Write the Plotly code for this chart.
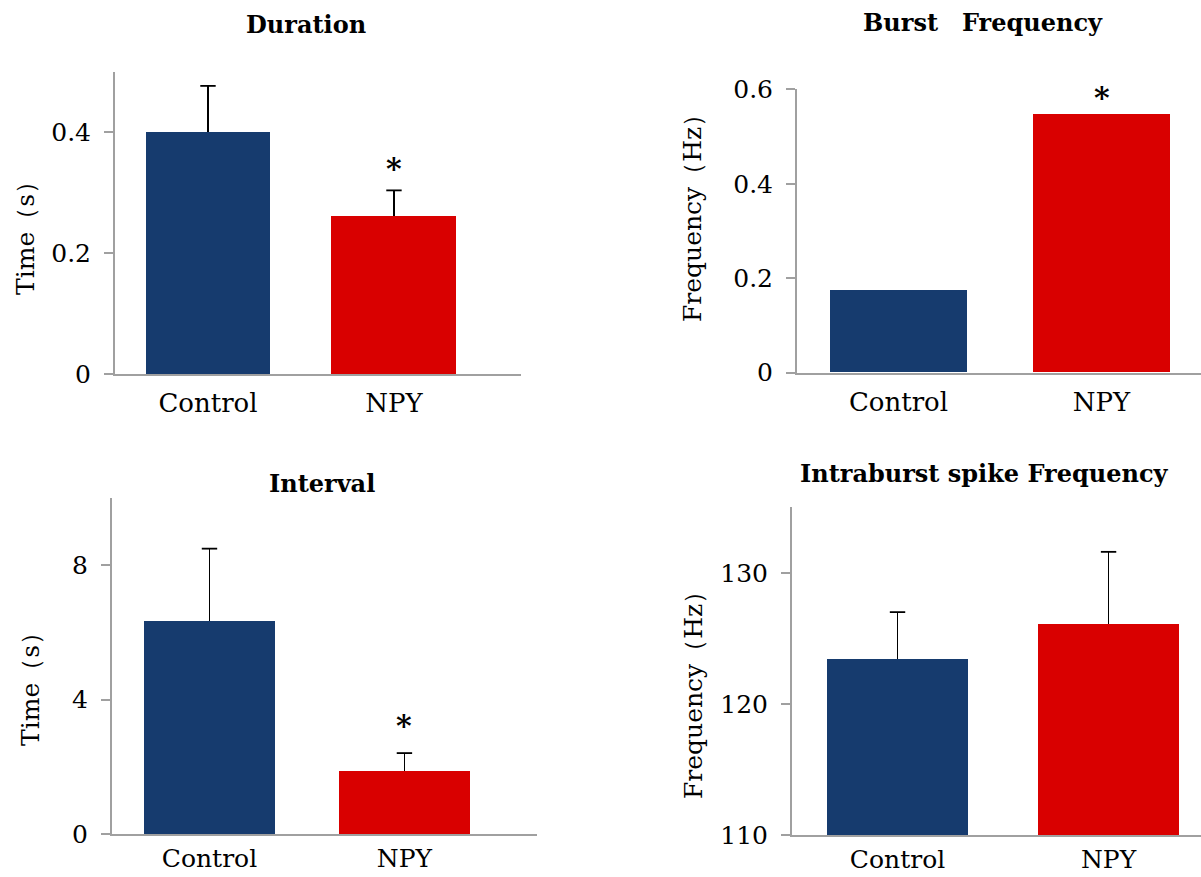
import plotly.graph_objects as go

# ---- data ----
groups = ["Control", "NPY"]

duration_mean = [0.401, 0.261]
duration_err = [0.076, 0.043]

burst_freq_mean = [0.175, 0.547]

interval_mean = [6.33, 1.87]
interval_err = [2.17, 0.54]

intraburst_mean = [123.4, 126.1]
intraburst_err = [3.6, 5.5]

titles = ["Duration", "Burst\u3000Frequency", "Interval", "Intraburst spike Frequency"]
ylabels = ["Time（s）", "Frequency（Hz）", "Time（s）", "Frequency（Hz）"]

dur_ticks = [0, 0.2, 0.4]
burst_ticks = [0, 0.2, 0.4, 0.6]
interval_ticks = [0, 4, 8]
intra_ticks = [110, 120, 130]

# ---- style ----
FONT = "DejaVu Serif"
BLUE = "#163b6e"
RED = "#d90000"
AXIS_GREY = "#a0a0a0"
W, H = 1201, 877
BAR_W = 0.672

fig = go.Figure()

panels = [
    dict(mean=duration_mean, err=duration_err, ax=""),
    dict(mean=burst_freq_mean, err=None, ax="2"),
    dict(mean=interval_mean, err=interval_err, ax="3"),
    dict(mean=intraburst_mean, err=intraburst_err, ax="4"),
]

for p in panels:
    err = None
    if p["err"] is not None:
        err = dict(type="data", array=p["err"], arrayminus=[0] * len(p["err"]),
                   symmetric=False, color="black", thickness=1.8, width=0)
    fig.add_trace(go.Bar(
        x=groups, y=p["mean"], width=BAR_W,
        marker=dict(color=[BLUE, RED], line=dict(width=0)),
        error_y=err, showlegend=False,
        xaxis="x" + p["ax"], yaxis="y" + p["ax"],
    ))
    if p["err"] is not None:
        # caps on top of the error bars only
        fig.add_trace(go.Scatter(
            x=groups, y=[m + e for m, e in zip(p["mean"], p["err"])],
            mode="markers", hoverinfo="skip", showlegend=False,
            marker=dict(symbol="line-ew", size=11, line=dict(width=1.8, color="black")),
            xaxis="x" + p["ax"], yaxis="y" + p["ax"],
        ))

# pixel geometry -> paper domains
def xd(a, b):
    return [a / W, min(b / W, 1.0)]

def yd(bottom, top):
    return [1 - bottom / H, 1 - top / H]

geo = [
    dict(x=xd(115, 521), y=yd(374, 72), xr=[-0.5, 1.683], yr=[0, 0.5], ticks=dur_ticks,
         labels=["0", "0.2", "0.4"], xs=5, xf=26),
    dict(x=xd(797, 1201), y=yd(372.7, 89.3), xr=[-0.5, 1.49], yr=[0, 0.6], ticks=burst_ticks,
         labels=["0", "0.2", "0.4", "0.6"], xs=5, xf=26),
    dict(x=xd(112, 537), y=yd(834, 498.3), xr=[-0.5, 1.68], yr=[0, 10], ticks=interval_ticks,
         labels=["0", "4", "8"], xs=1, xf=25),
    dict(x=xd(792, 1201), y=yd(834.9, 507.3), xr=[-0.5, 1.438], yr=[110, 135], ticks=intra_ticks,
         labels=["110", "120", "130"], xs=1, xf=25),
]

layout = dict(
    width=W, height=H, autosize=False,
    margin=dict(l=0, r=0, t=0, b=0, pad=0, autoexpand=False),
    paper_bgcolor="white", plot_bgcolor="white",
    font=dict(family=FONT, color="black"),
    showlegend=False,
    bargap=0,
)

for i, g in enumerate(geo):
    suf = "" if i == 0 else str(i + 1)
    layout["xaxis" + suf] = dict(
        domain=g["x"], range=g["xr"], anchor="y" + suf, type="category",
        showline=True, linecolor=AXIS_GREY, linewidth=2, ticks="",
        ticklabelstandoff=g["xs"],
        showgrid=False, zeroline=False, automargin=False,
        tickfont=dict(family=FONT, size=g["xf"], color="black"),
        fixedrange=True,
    )
    layout["yaxis" + suf] = dict(
        domain=g["y"], range=g["yr"], anchor="x" + suf,
        showline=True, linecolor=AXIS_GREY, linewidth=2,
        ticks="outside", ticklen=9, tickwidth=2, tickcolor=AXIS_GREY,
        tickvals=g["ticks"], ticktext=g["labels"],
        ticklabelstandoff=8, automargin=False,
        showgrid=False, zeroline=False,
        tickfont=dict(family=FONT, size=25, color="black"),
        fixedrange=True,
    )

fig.update_layout(**layout)

# titles
title_pos = [(306, 25), (983, 22), (321.5, 483), (984, 473)]
for t, (px, py) in zip(titles, title_pos):
    fig.add_annotation(text="<b>" + t + "</b>", x=px / W, y=1 - py / H, xref="paper", yref="paper",
                       xanchor="center", yanchor="middle", showarrow=False,
                       font=dict(family=FONT, size=24, color="black"))

# y axis titles
ylab_pos = [(26, 232), (692, 212), (30, 683), (693, 689)]
for t, (px, py) in zip(ylabels, ylab_pos):
    fig.add_annotation(text=t, x=px / W, y=1 - py / H, xref="paper", yref="paper",
                       xanchor="center", yanchor="middle", showarrow=False, textangle=-90,
                       font=dict(family=FONT, size=25, color="black"))

# significance asterisks above NPY
stars = [
    ("", duration_mean[1] + duration_err[1], 22),
    ("2", burst_freq_mean[1], 17),
    ("3", interval_mean[1] + interval_err[1], 28),
]
for suf, yv, shift in stars:
    fig.add_annotation(text="<b>*</b>", x="NPY", y=yv, xref="x" + suf, yref="y" + suf,
                       xanchor="center", yanchor="middle", yshift=shift, showarrow=False,
                       font=dict(family=FONT, size=30, color="black"))

fig.write_html("out.html", config={"responsive": False})
